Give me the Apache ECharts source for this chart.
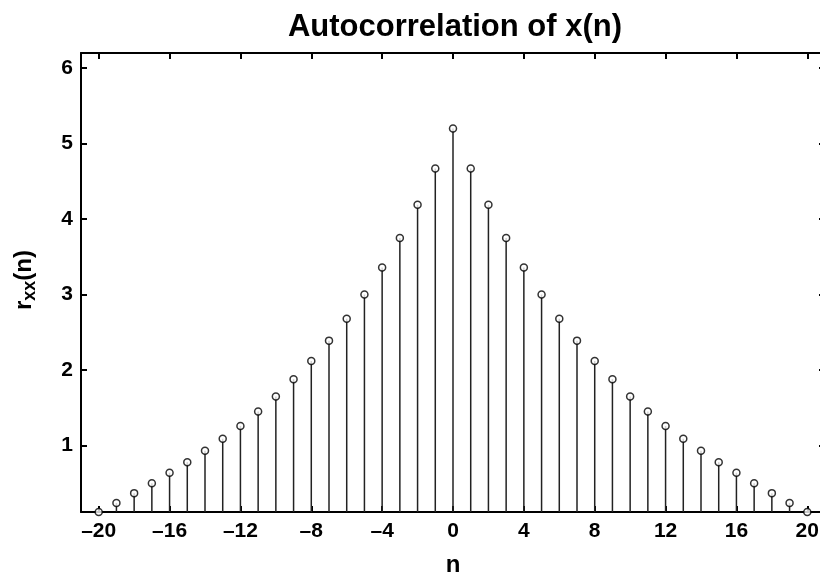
<!DOCTYPE html>
<html><head><meta charset="utf-8">
<script src="https://cdn.jsdelivr.net/npm/echarts@6/dist/echarts.min.js"></script>
<style>html,body{margin:0;padding:0;background:#fff}#c{width:820px;height:575px}</style>
</head><body><div id="c"></div>
<script>
const lags = [-20,-19,-18,-17,-16,-15,-14,-13,-12,-11,-10,-9,-8,-7,-6,-5,-4,-3,-2,-1,0,1,2,3,4,5,6,7,8,9,10,11,12,13,14,15,16,17,18,19,20];
const rxx = [0.12,0.24,0.37,0.50,0.64,0.78,0.93,1.09,1.26,1.45,1.65,1.88,2.12,2.39,2.68,3.00,3.36,3.75,4.19,4.67,5.20,4.67,4.19,3.75,3.36,3.00,2.68,2.39,2.12,1.88,1.65,1.45,1.26,1.09,0.93,0.78,0.64,0.50,0.37,0.24,0.12];
const xTicks = [-20,-16,-12,-8,-4,0,4,8,12,16,20];
const yTicks = [1,2,3,4,5,6];
const xMin = -21, xMax = 21, yMin = 0.12, yMax = 6.2;

const pts = lags.map((n,i)=>[n, rxx[i]]);
const font = 'Liberation Sans, Arial, sans-serif';
const chart = echarts.init(document.getElementById('c'));
function axisBase(ticks){
  return {
    axisLine:{show:true,onZero:false,lineStyle:{color:'#000',width:2}},
    axisTick:{show:true,inside:true,length:6,customValues:ticks,lineStyle:{color:'#000',width:2}},
    splitLine:{show:false}
  };
}
chart.setOption({
  animation:false,
  title:{text:'Autocorrelation of x(n)',left:450,textAlign:'center',top:7,
    textStyle:{fontFamily:font,fontWeight:'bold',fontSize:31,color:'#000'}},
  grid:{left:81,top:53,width:744,height:459,outerBoundsMode:'none',containLabel:false},
  xAxis:[
    Object.assign({type:'value',min:xMin,max:xMax,position:'bottom',
      axisLabel:{customValues:xTicks,margin:9,fontFamily:font,fontWeight:'bold',fontSize:21,color:'#000',
        formatter:v=>String(v).replace('-','\u2013')},
      name:'n',nameLocation:'middle',nameGap:41,
      nameTextStyle:{fontFamily:font,fontWeight:'bold',fontSize:24,color:'#000'}}, axisBase(xTicks)),
    Object.assign({type:'value',min:xMin,max:xMax,position:'top',axisLabel:{show:false}}, axisBase(xTicks))
  ],
  yAxis:[
    Object.assign({type:'value',min:yMin,max:yMax,position:'left',
      axisLabel:{customValues:yTicks,margin:8,fontFamily:font,fontWeight:'bold',fontSize:21,color:'#000'}}, axisBase(yTicks)),
    Object.assign({type:'value',min:yMin,max:yMax,position:'right',axisLabel:{show:false}}, axisBase(yTicks))
  ],
  graphic:[{type:'text',left:12,top:250,rotation:Math.PI/2,
    style:{rich:{r:{fontFamily:font,fontWeight:'bold',fontSize:24,fill:'#000'},
                 s:{fontFamily:font,fontWeight:'bold',fontSize:18,fill:'#000',padding:[12,0,0,0]}},
      text:'{r|r}{s|xx}{r|(n)}'}}],
  series:[
    {type:'custom',xAxisIndex:0,yAxisIndex:0,data:pts,clip:true,z:2,
      renderItem:(params,api)=>{
        const top = api.coord([api.value(0), api.value(1)]);
        const base = api.coord([api.value(0), yMin]);
        return {type:'line',shape:{x1:top[0],y1:base[1],x2:top[0],y2:top[1]},
          style:{stroke:'#222',lineWidth:1.5}};
      }},
    {type:'scatter',xAxisIndex:0,yAxisIndex:0,data:pts,symbol:'circle',symbolSize:7,z:3,
      itemStyle:{color:'#fff',borderColor:'#000',borderWidth:1.5}}
  ]
});
</script></body></html>
